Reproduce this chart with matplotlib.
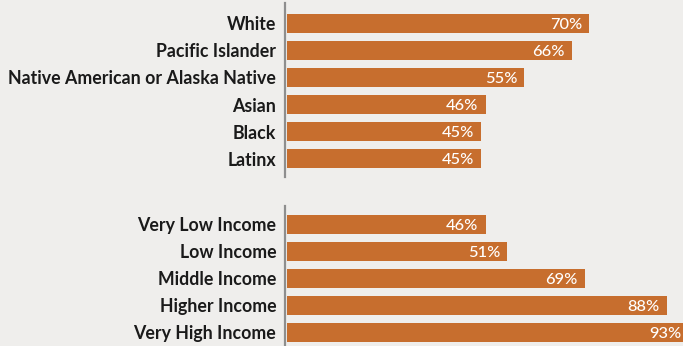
import matplotlib.pyplot as plt

race_labels = ["White", "Pacific Islander", "Native American or Alaska Native",
               "Asian", "Black", "Latinx"]
race_values = [70, 66, 55, 46, 45, 45]

income_labels = ["Very Low Income", "Low Income", "Middle Income",
                 "Higher Income", "Very High Income"]
income_values = [46, 51, 69, 88, 93]

bg = "#EFEEEC"
bar_color = "#C76E2E"
spine_color = "#8E8E8E"

plt.rcParams['font.family'] = ['Lato', 'DejaVu Sans']

fig = plt.figure(figsize=(6.83, 3.46), dpi=100)
fig.patch.set_facecolor(bg)

W, H = 683, 346
px = 4.31  # pixels per percent
x0 = 287.3  # pixel where bars start
left = 285.3
xmin = -(x0 - left) / px
xmax = (W - x0) / px

ax1 = fig.add_axes([left / W, 169 / H, (W - left) / W, 174 / H])
ax2 = fig.add_axes([left / W, 0, (W - left) / W, 140 / H])


def draw(ax, labels, values, ylim):
    ax.set_facecolor(bg)
    ypos = list(range(len(values)))
    ax.barh(ypos, values, height=0.70, color=bar_color)
    for y, v in zip(ypos, values):
        ax.text(v - 1.6, y, f"{v}%", ha='right', va='center_baseline',
                color='white', fontsize=11.8, fontweight='medium', clip_on=False)
    ax.set_xlim(xmin, xmax)
    ax.set_ylim(*ylim)
    ax.set_yticks(ypos)
    ax.set_yticklabels(labels, fontsize=12.8, fontweight='bold', color='#1A1A1A',
                       va='center_baseline')
    ax.tick_params(axis='y', length=0, pad=6.5)
    ax.set_xticks([])
    for s in ['top', 'right', 'bottom']:
        ax.spines[s].set_visible(False)
    ax.spines['left'].set_color(spine_color)
    ax.spines['left'].set_linewidth(1.6)


draw(ax1, race_labels, race_values, (5.685, -0.759))
draw(ax2, income_labels, income_values, (4.5, -0.685))

fig.savefig("out.png", dpi=100, facecolor=bg)
